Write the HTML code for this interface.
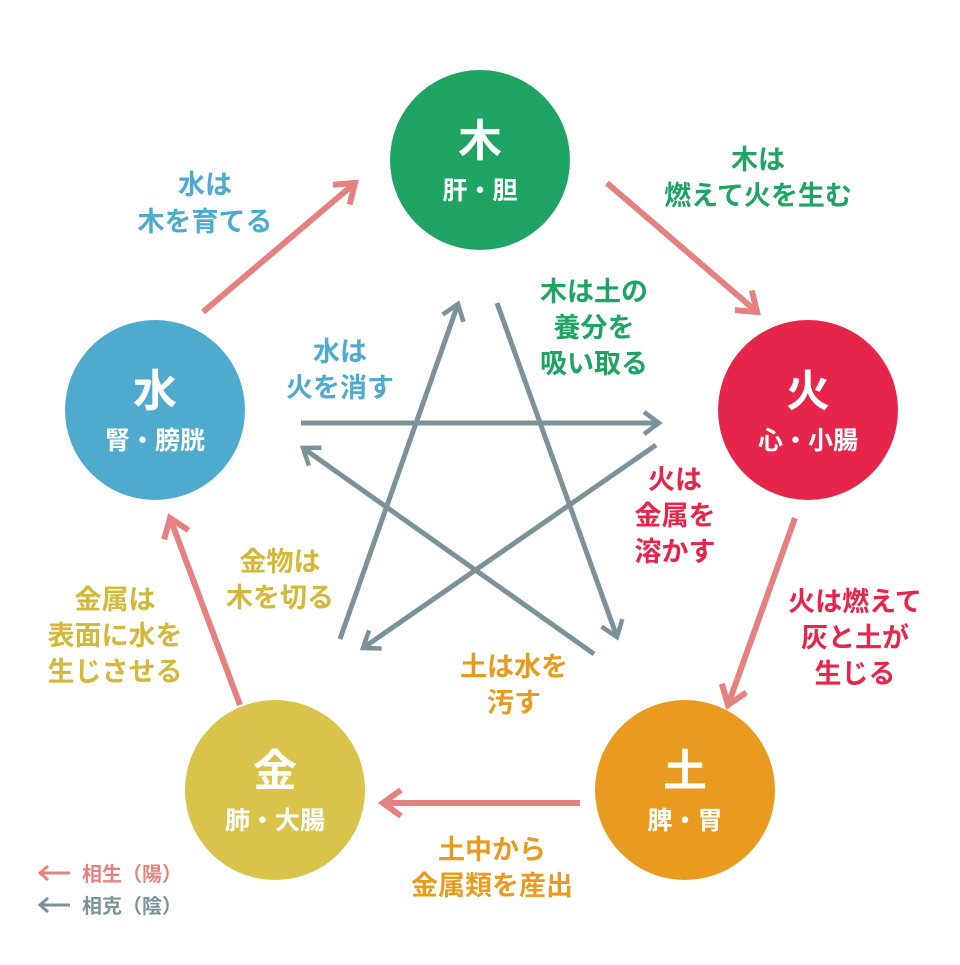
<!DOCTYPE html>
<html><head><meta charset="utf-8"><style>
body{margin:0;background:#fff}
svg text{font-family:"Liberation Sans","Noto Sans CJK JP",sans-serif;font-weight:bold;text-anchor:middle}
</style></head><body>
<svg width="960" height="960" viewBox="0 0 960 960" xmlns="http://www.w3.org/2000/svg">
<defs>
<marker id="p" markerWidth="30" markerHeight="30" refX="24" refY="15" orient="auto" markerUnits="userSpaceOnUse" viewBox="0 0 30 30"><path d="M6,2 L24,15 L6,28" fill="none" stroke="#e58181" stroke-width="6"/></marker>
<marker id="g2" markerWidth="26" markerHeight="26" refX="21" refY="13" orient="auto" markerUnits="userSpaceOnUse" viewBox="0 0 26 26"><path d="M6,2 L21,13 L6,24" fill="none" stroke="#7b9398" stroke-width="4.5"/></marker>
</defs>
<g stroke="#7b9398" stroke-width="5" fill="none" marker-end="url(#g2)">
<line x1="301" y1="423" x2="659" y2="423"/>
<line x1="340" y1="639" x2="458" y2="304"/>
<line x1="497" y1="303" x2="617" y2="637"/>
<line x1="656" y1="445" x2="363" y2="648"/>
<line x1="594" y1="654" x2="303" y2="448"/>
</g>
<g stroke="#e58181" stroke-width="6" fill="none" marker-end="url(#p)">
<line x1="203" y1="312" x2="355" y2="183"/>
<line x1="607" y1="183" x2="757" y2="312"/>
<line x1="795" y1="518" x2="728" y2="705"/>
<line x1="580" y1="803" x2="383" y2="803"/>
<line x1="240" y1="705" x2="170" y2="518"/>
</g>
<circle cx="480" cy="160" r="90" fill="#1fa463"/>
<circle cx="808" cy="410" r="90" fill="#e5254a"/>
<circle cx="685" cy="790" r="90" fill="#e89b1e"/>
<circle cx="275" cy="790" r="90" fill="#d9c34a"/>
<circle cx="155" cy="410" r="90" fill="#4eabce"/>
<g fill="#fff">
<text x="480" y="156" font-size="44">木</text><text x="480" y="199" font-size="25">肝・胆</text>
<text x="808" y="406" font-size="44">火</text><text x="808" y="449" font-size="25">心・小腸</text>
<text x="685" y="786" font-size="44">土</text><text x="685" y="829" font-size="25">脾・胃</text>
<text x="275" y="786" font-size="44">金</text><text x="275" y="829" font-size="25">肺・大腸</text>
<text x="155" y="406" font-size="44">水</text><text x="155" y="449" font-size="25">腎・膀胱</text>
</g>
<g font-size="27">
<g fill="#4eabce"><text x="205" y="194">水は</text><text x="205" y="231">木を育てる</text>
<text x="340" y="361">水は</text><text x="340" y="397">火を消す</text></g>
<g fill="#1fa463"><text x="758" y="169">木は</text><text x="758" y="205">燃えて火を生む</text>
<text x="594" y="301">木は土の</text><text x="594" y="337">養分を</text><text x="594" y="373">吸い取る</text></g>
<g fill="#e5254a"><text x="675" y="489">火は</text><text x="675" y="525">金属を</text><text x="675" y="561">溶かす</text>
<text x="855" y="611">火は燃えて</text><text x="855" y="647">灰と土が</text><text x="855" y="683">生じる</text></g>
<g fill="#e89b1e"><text x="514" y="676">土は水を</text><text x="514" y="712">汚す</text>
<text x="492" y="859">土中から</text><text x="492" y="895">金属類を産出</text></g>
<g fill="#d3b83a"><text x="280" y="571">金物は</text><text x="280" y="607">木を切る</text>
<text x="115" y="609">金属は</text><text x="115" y="645">表面に水を</text><text x="115" y="681">生じさせる</text></g>
</g>
<g font-size="20">
<text x="82" y="881" fill="#e58181" style="text-anchor:start">相生（陽）</text>
<text x="82" y="913" fill="#7b9398" style="text-anchor:start">相克（陰）</text>
</g>
<g stroke-width="3" fill="none">
<path d="M40,873 H70 M48,866 L40,873 L48,880" stroke="#e58181"/>
<path d="M40,905 H70 M48,898 L40,905 L48,912" stroke="#7b9398"/>
</g>
</svg>
</body></html>
